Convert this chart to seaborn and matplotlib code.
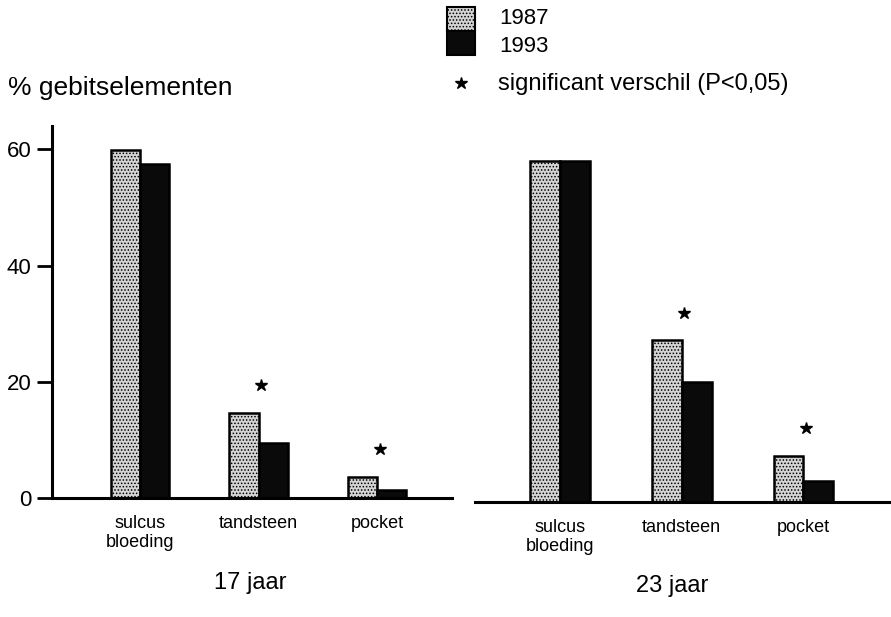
import matplotlib
matplotlib.use("Agg")
import matplotlib.pyplot as plt
import seaborn as sns
import pandas as pd
from matplotlib.patches import Rectangle

# ---- data ----
categories = ["sulcus\nbloeding", "tandsteen", "pocket"]
years = ["1987", "1993"]
age17_1987 = [59.8, 14.6, 3.6]
age17_1993 = [57.4, 9.5, 1.4]
age23_1987 = [58.6, 27.8, 7.9]
age23_1993 = [58.6, 20.6, 3.6]
sig17 = [False, True, True]
sig23 = [False, True, True]
panel_titles = ["17 jaar", "23 jaar"]
y_label = "% gebitselementen"
y_ticks = [0, 20, 40, 60]

sns.set_theme(style="white")
plt.rcParams["font.family"] = ["Liberation Sans", "DejaVu Sans"]
plt.rcParams["hatch.linewidth"] = 0.7
plt.rcParams["text.color"] = "black"
plt.rcParams["xtick.color"] = "black"
plt.rcParams["ytick.color"] = "black"
plt.rcParams["xtick.labelcolor"] = "black"
plt.rcParams["ytick.labelcolor"] = "black"

W, H = 891, 617
fig = plt.figure(figsize=(W / 100, H / 100), dpi=100)

def fx(px):
    return px / W

def fy(py):
    return 1 - py / H

axL = fig.add_axes([fx(52), fy(498), fx(452) - fx(52), fy(126) - fy(498)])
axR = fig.add_axes([fx(475), fy(502), 1 - fx(475), fy(130) - fy(502)])

palette = {"1987": "#d4d4d4", "1993": "#0a0a0a"}

def make_df(v87, v93):
    return pd.DataFrame({
        "cat": categories * 2,
        "year": ["1987"] * 3 + ["1993"] * 3,
        "val": list(v87) + list(v93),
    })

def draw(ax, v87, v93, sig, xlim):
    df = make_df(v87, v93)
    sns.barplot(data=df, x="cat", y="val", hue="year", palette=palette,
                hue_order=years, order=categories, width=0.49, ax=ax,
                legend=False, saturation=1, edgecolor="black", linewidth=1.8)
    for p in ax.containers[0]:
        p.set_hatch(".....")
        p.set_edgecolor("black")
    ax.set_xlim(*xlim)
    ax.set_ylim(0, 64)
    # significance stars above the 1987 bar
    for i, (s, v) in enumerate(zip(sig, v87)):
        if s:
            ax.plot(i + 0.02, v + 4.8, marker="*", color="black", markersize=9,
                    linestyle="none", clip_on=False)
    ax.set_xlabel("")
    ax.set_ylabel("")
    for side in ["top", "right"]:
        ax.spines[side].set_visible(False)
    ax.spines["bottom"].set_linewidth(2.2)
    ax.spines["bottom"].set_color("black")
    ax.tick_params(axis="x", length=0, pad=12, labelsize=13)
    for lab in ax.get_xticklabels():
        lab.set_linespacing(1.2)
        lab.set_color("black")

draw(axL, age17_1987, age17_1993, sig17, (-0.74, 2.63))
draw(axR, age23_1987, age23_1993, sig23, (-0.70, 2.72))

axL.spines["left"].set_linewidth(2.2)
axL.spines["left"].set_color("black")
axL.set_yticks(y_ticks)
axL.tick_params(axis="y", length=11, width=2, pad=4, labelsize=16,
                left=True, color="black")

axR.spines["left"].set_visible(False)
axR.set_yticks([])

for ax in (axL, axR):
    ax.set_facecolor("none")

# titles and labels
fig.text(fx(8), fy(88), y_label, fontsize=19, va="center", ha="left")
fig.text(fx(250), fy(583), panel_titles[0], fontsize=17, ha="center", va="center")
fig.text(fx(672), fy(586), panel_titles[1], fontsize=17, ha="center", va="center")

# legend
fig.patches.append(Rectangle((fx(447), fy(31)), fx(475) - fx(447), fy(7) - fy(31),
                             transform=fig.transFigure, facecolor=palette["1987"],
                             edgecolor="black", linewidth=1.5, hatch="....."))
fig.patches.append(Rectangle((fx(447), fy(55)), fx(475) - fx(447), fy(31) - fy(55),
                             transform=fig.transFigure, facecolor=palette["1993"],
                             edgecolor="black", linewidth=1.5))
fig.text(fx(499), fy(18), years[0], fontsize=16, va="center", ha="left")
fig.text(fx(499), fy(47), years[1], fontsize=16, va="center", ha="left")
fig.add_artist(plt.Line2D([fx(461)], [fy(83)], marker="*", color="black",
                          markersize=9, linestyle="none", transform=fig.transFigure))
fig.text(fx(498), fy(84), "significant verschil (P<0,05)", fontsize=17,
         va="center", ha="left")

fig.savefig("out.png", dpi=100)
